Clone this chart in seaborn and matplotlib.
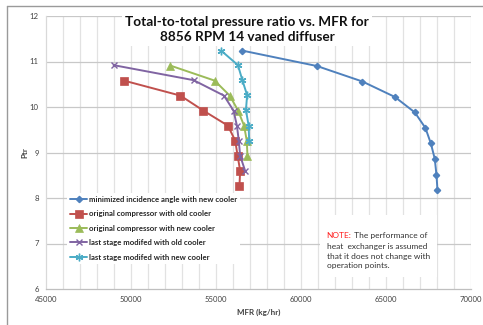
import matplotlib
matplotlib.use("Agg")
import matplotlib.pyplot as plt
from matplotlib.lines import Line2D
from matplotlib.patches import Rectangle
import seaborn as sns

# Mass flow rate (kg/hr) and total-to-total pressure ratio per configuration
mfr_min_incidence = [56550, 60950, 63620, 65530, 66700, 67320, 67640, 67870, 67970, 68030]
ptr_min_incidence = [11.24, 10.90, 10.56, 10.22, 9.88, 9.54, 9.20, 8.86, 8.51, 8.17]

mfr_orig_old = [49600, 52920, 54270, 55710, 56140, 56280, 56430, 56390]
ptr_orig_old = [10.58, 10.25, 9.92, 9.59, 9.26, 8.93, 8.60, 8.27]

mfr_orig_new = [52330, 54930, 55820, 56310, 56660, 56820, 56860]
ptr_orig_new = [10.91, 10.58, 10.25, 9.92, 9.59, 9.26, 8.93]

mfr_last_old = [48990, 53690, 55480, 56040, 56240, 56350, 56430, 56720]
ptr_last_old = [10.92, 10.59, 10.25, 9.92, 9.59, 9.26, 8.93, 8.60]

mfr_last_new = [55310, 56300, 56560, 56840, 56770, 56930, 56960]
ptr_last_new = [11.24, 10.92, 10.59, 10.26, 9.93, 9.59, 9.26]

labels = [
    "minimized incidence angle with new cooler",
    "original compressor with old cooler",
    "original compressor with new cooler",
    "last stage modifed with old cooler",
    "last stage modifed with new cooler",
]

sns.set_style("white")
plt.rcParams["font.family"] = ["Lato", "DejaVu Sans"]

W, H = 483, 325
fig = plt.figure(figsize=(W / 100, H / 100), dpi=100)
ax = fig.add_axes([45.7 / W, 1 - 289 / H, (471 - 45.7) / W, (289 - 16) / H])

# chart frame (left and top edges visible)
fig.add_artist(Line2D([7.3 / W, 7.3 / W], [0, 1 - 6 / H], color="#9a9a9a", lw=1.0,
                      transform=fig.transFigure))
fig.add_artist(Line2D([7.3 / W, 1], [1 - 6 / H, 1 - 6 / H], color="#9a9a9a", lw=1.0,
                      transform=fig.transFigure))

series = [
    (mfr_min_incidence, ptr_min_incidence, "#4F81BD", "D", 3.2, 1.0),
    (mfr_orig_old, ptr_orig_old, "#C0504D", "s", 5.6, 0.5),
    (mfr_orig_new, ptr_orig_new, "#9BBB59", "^", 5.2, 0.5),
    (mfr_last_old, ptr_last_old, "#8064A2", "x", 4.8, 1.0),
    (mfr_last_new, ptr_last_new, "#4BACC6", (6, 2, 0), 5.5, 1.0),
]
for (xs, ys, col, mk, ms, mew), lab in zip(series, labels):
    sns.lineplot(x=xs, y=ys, ax=ax, sort=False, estimator=None, color=col,
                 marker=mk, markersize=ms, markeredgewidth=mew,
                 markeredgecolor=col, linewidth=1.4, label=lab, zorder=4)

ax.set_xlim(45000, 70000)
ax.set_ylim(6, 12)
ax.set_xticks(range(45000, 70001, 5000))
ax.set_xticks(range(45000, 70001, 1000), minor=True)
ax.set_yticks(range(6, 13))
ax.grid(False)
for x in range(46000, 70001, 1000):
    ax.axvline(x, color="#e2e2e2", lw=0.9, zorder=0)
for y in range(7, 13):
    ax.axhline(y, color="#c8c8c8", lw=0.9, zorder=0.5)

for side in ["top", "right"]:
    ax.spines[side].set_visible(False)
ax.spines["bottom"].set_color("#bfbfbf")
ax.spines["left"].set_color("#d9d9d9")
ax.spines["bottom"].set_linewidth(0.9)
ax.spines["left"].set_linewidth(0.9)
ax.tick_params(axis="both", which="major", labelsize=5.6, colors="#bfbfbf",
               labelcolor="#404040", length=3, width=0.8, pad=2)
ax.tick_params(axis="x", which="minor", length=0)
ax.set_xticklabels([str(v) for v in range(45000, 70001, 5000)])

ax.set_xlabel("MFR (kg/hr)", fontsize=5.8, fontweight="bold", color="#404040", labelpad=4)
ax.set_ylabel("Ptr", fontsize=5.8, fontweight="bold", color="#404040", labelpad=1)

fig.text(247 / W, 1 - 29.5 / H,
         "Total-to-total pressure ratio vs. MFR for\n8856 RPM 14 vaned diffuser",
         ha="center", va="center", fontsize=9.8, fontweight="bold", color="#111111",
         linespacing=1.25,
         bbox=dict(facecolor="white", edgecolor="none", pad=2.5))

leg = ax.legend(loc="upper left", bbox_to_anchor=(0.05, 0.352), borderaxespad=0,
                frameon=True, fontsize=5.6, handlelength=2.2, handletextpad=0.2,
                labelspacing=0.95, borderpad=0.4, fancybox=False)
leg.get_frame().set_facecolor("white")
leg.get_frame().set_edgecolor("none")
leg.get_frame().set_alpha(1)
for t in leg.get_texts():
    t.set_color("#262626")
    t.set_fontweight("bold")

# annotation box
ax.add_patch(Rectangle((61125, 6.27), 6880, 1.36, facecolor="white", edgecolor="none",
                       zorder=3))
note = ax.text(61520, 7.25, "NOTE:", color="#ff1f1f", fontsize=6.0, ha="left", va="top",
               zorder=5)
ax.annotate(" The performance of", xy=(1, 0), xycoords=note, ha="left", va="bottom",
            fontsize=6.0, color="#333333", zorder=5)
ax.text(61520, 7.01,
        "heat  exchanger is assumed\nthat it does not change with\noperation points.",
        color="#333333", fontsize=6.0, ha="left", va="top", linespacing=1.45, zorder=5)

fig.savefig("out.png", dpi=100)
